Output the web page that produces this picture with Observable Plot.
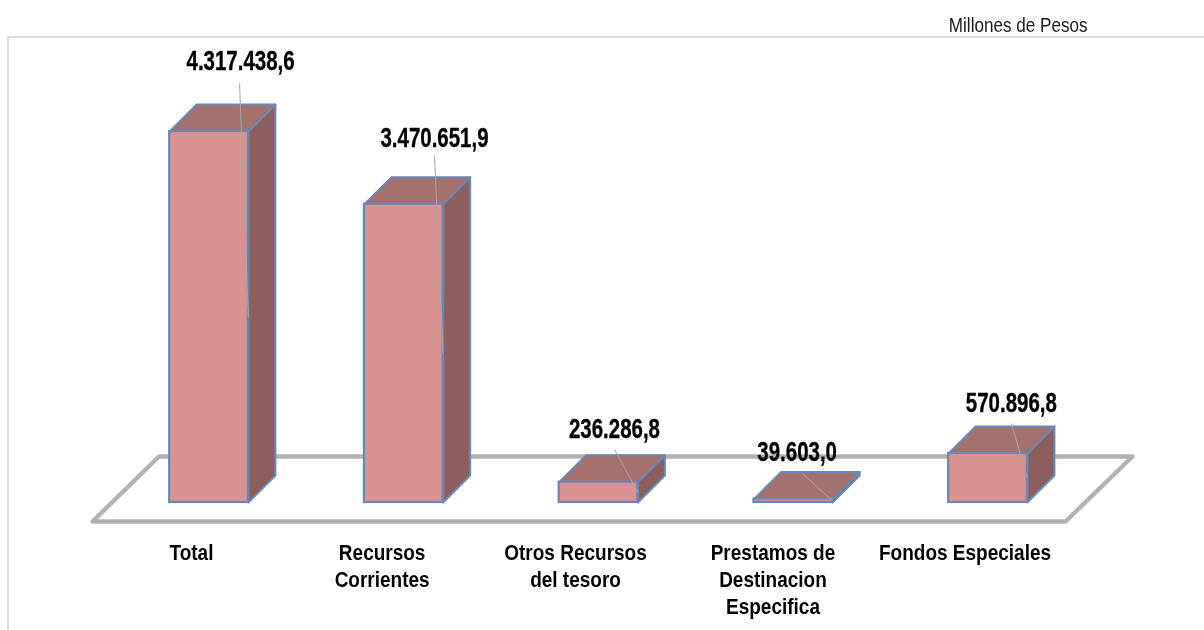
<!DOCTYPE html>
<html>
<head>
<meta charset="utf-8">
<script src="https://cdn.jsdelivr.net/npm/d3@7"></script>
<script src="https://cdn.jsdelivr.net/npm/@observablehq/plot@0.6"></script>
<style>
html,body{margin:0;padding:0;background:#fff;width:1204px;height:630px;overflow:hidden}
#frame{position:absolute;left:7px;top:36px;right:0;bottom:0;border-top:2px solid #dcdcdc;border-left:2px solid #dcdcdc}
#chart{position:absolute;left:0;top:0}
svg{filter:blur(0.35px)}
</style>
</head>
<body>
<div id="frame"></div>
<div id="chart"></div>
<script>
const categories = ["Total", "Recursos\nCorrientes", "Otros Recursos\ndel tesoro", "Prestamos de\nDestinacion\nEspecifica", "Fondos Especiales"];
const categoryOffsets = [-0.09, -0.111, -0.118, -0.104, -0.118];
const values = [4317438.6, 3470651.9, 236286.8, 39603.0, 570896.8];
const valueLabels = ["4.317.438,6", "3.470.651,9", "236.286,8", "39.603,0", "570.896,8"];
const labelOffsets = [0.162, 0.158, 0.082, 0.02, 0.12];
const labelLevels = [5132000, 4236000, 849500, 582000, 1152000];
const leaderOffsets = [0.157, 0.158, 0.082, 0.047, 0.12];
const leaderLevels = [4876000, 4038000, 617000, 337000, 919000];

const halfWidth = 0.202, depthX = 0.139, depthY = 314000;
const floorX = [-0.598, 4.398, 4.742, -0.257];
const floorY = [-221000, -221000, 535000, 535000];

const FONT = '"Liberation Sans",Arial,sans-serif';
const FRONT = "#d89291", TOP = "#a5716f", SIDE = "#8b5f5d", EDGE = "#6d87b4", FLOOR = "#b2b2b2";

const bars = values.map((v, i) => ({i, v, x1: i - halfWidth, x2: i + halfWidth}));
const floor = floorX.map((x, k) => ({x, y: floorY[k]}));
const face = (kind, b) => {
  const {x1, x2, v} = b;
  const pts = kind === "top"
    ? [[x1, v], [x2, v], [x2 + depthX, v + depthY], [x1 + depthX, v + depthY]]
    : [[x2, 0], [x2 + depthX, depthY], [x2 + depthX, v + depthY], [x2, v]];
  return pts.map(([x, y]) => ({x, y, id: kind + b.i, kind}));
};
const sides = bars.flatMap(b => [...face("side", b), ...face("top", b)]);
const leaders = bars.map((b, i) => ({x1: i + leaderOffsets[i], y1: leaderLevels[i], x2: b.x2, y2: b.v / 2}));
const valueText = bars.map((b, i) => ({x: i + labelOffsets[i], y: labelLevels[i], t: valueLabels[i]}));

const plot = Plot.plot({
  width: 1204, height: 630, margin: 0,
  x: {type: "linear", domain: [-1.0706, 5.1117], range: [0, 1204], axis: null},
  y: {type: "linear", domain: [-1489536, 5841774], range: [630, 0], axis: null},
  marks: [
    Plot.line(floor, {x: "x", y: "y", curve: "linear-closed", fill: "#fff", stroke: FLOOR, strokeWidth: 4.4, strokeLinejoin: "round"}),
    Plot.line(sides, {x: "x", y: "y", z: "id", curve: "linear-closed",
      fill: d => d.kind === "top" ? TOP : SIDE, stroke: EDGE, strokeWidth: 2, strokeLinejoin: "round"}),
    Plot.rect(bars, {x1: "x1", x2: "x2", y1: 0, y2: "v", fill: FRONT, stroke: EDGE, strokeWidth: 2.2}),
    Plot.link(leaders, {x1: "x1", y1: "y1", x2: "x2", y2: "y2", stroke: "#a6a6a6", strokeWidth: 1, markerEnd: "none"}),
    Plot.text(valueText, {x: "x", y: "y", text: "t", fontFamily: FONT, fontWeight: "bold", fontSize: 22, fill: "#000",
      stroke: "#000", strokeWidth: 0.3, className: "vlabel"}),
    Plot.text(categories, {x: (d, i) => i + categoryOffsets[i], y: -445000, text: d => d, lineAnchor: "top", lineHeight: 1.23,
      fontFamily: FONT, fontWeight: "bold", fontSize: 19, fill: "#000", className: "clabel"}),
    Plot.text(["Millones de Pesos"], {frameAnchor: "top-right", dx: -117, dy: 18, text: d => d, lineAnchor: "top",
      fontFamily: FONT, fontSize: 15, fill: "#1a1a1a", className: "unit"})
  ]
});
const stretch = (cls, sx, sy) => d3.select(plot).selectAll(`.${cls} text`)
  .attr("transform", function () { return (this.getAttribute("transform") || "") + ` scale(${sx},${sy})`; });
stretch("vlabel", 0.93, 1.22);
stretch("clabel", 1, 1.15);
stretch("unit", 1.14, 1.3);
document.getElementById("chart").appendChild(plot);
</script>
</body>
</html>
